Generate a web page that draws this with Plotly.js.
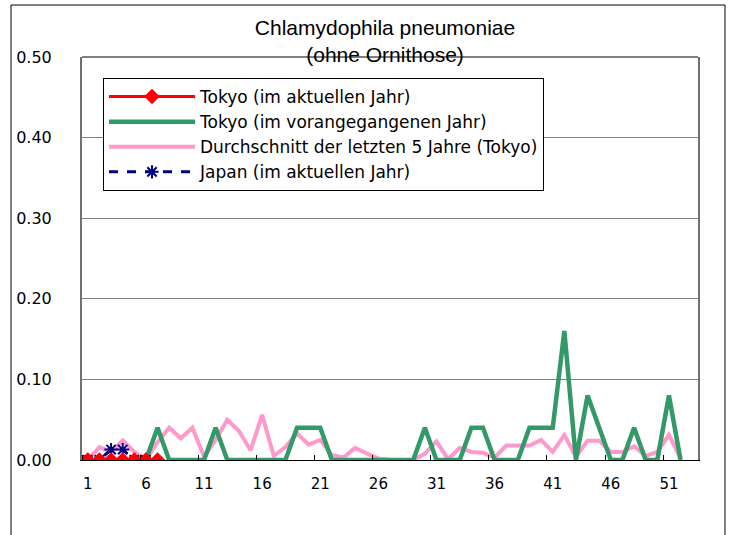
<!DOCTYPE html>
<html>
<head>
<meta charset="utf-8">
<script src="https://cdn.plot.ly/plotly-3.0.1.min.js"></script>
<style>html,body{margin:0;padding:0;background:#fff;}#chart{width:732px;height:535px;}</style>
</head>
<body>
<div id="chart"></div>
<script>
const weeks = [1,2,3,4,5,6,7,8,9,10,11,12,13,14,15,16,17,18,19,20,21,22,23,24,25,26,
  27,28,29,30,31,32,33,34,35,36,37,38,39,40,41,42,43,44,45,46,47,48,49,50,51,52];
const weekTicks = [1,6,11,16,21,26,31,36,41,46,51];
const weekTickLabels = ["1","6","11","16","21","26","31","36","41","46","51"];

const seriesNames = [
  "Tokyo (im aktuellen Jahr)",
  "Tokyo (im vorangegangenen Jahr)",
  "Durchschnitt der letzten 5 Jahre (Tokyo)",
  "Japan (im aktuellen Jahr)"
];

// Tokyo, current year (weeks 1-7)
const tokyoCurrent = [0,0,0,0,0,0,0];
// Tokyo, previous year
const tokyoPrevious = [0,0,0,0,0,0,0.04,0,0,0,0,0.04,0,0,0,0,0,0,0.04,0.04,
  0.04,0,0,0,0,0,0,0,0,0.04,0,0,0,0.04,0.04,0,0,0,0.04,0.04,
  0.04,0.16,0,0.08,0.04,0,0,0.04,0,0,0.08,0];
// Tokyo, average of last 5 years
const tokyoAvg5 = [0,0.016,0.01,0.024,0.01,0,0.022,0.04,0.027,0.04,
  0.004,0.025,0.05,0.036,0.012,0.056,0.005,0.016,0.033,0.019,
  0.025,0.006,0.003,0.015,0.008,0.002,0,0,0,0.008,
  0.023,0.001,0.015,0.01,0.009,0.003,0.018,0.018,0.018,0.025,
  0.01,0.031,0.004,0.024,0.024,0.01,0.01,0.017,0.005,0.01,
  0.031,0.002];
// Japan, current year (weeks 1-6)
const japanCurrent = [0,0,0.013,0.013,0,0];

const traces = [
  {x: weeks, y: tokyoAvg5, name: seriesNames[2], type: "scatter", mode: "lines",
   line: {color: "#FF99CC", width: 4}, legendrank: 3, legendgroup: "c"},
  {x: weeks, y: tokyoPrevious, name: seriesNames[1], type: "scatter", mode: "lines",
   line: {color: "#339966", width: 4.5}, legendrank: 2, legendgroup: "b"},
  {x: weeks.slice(0, japanCurrent.length), y: japanCurrent, name: seriesNames[3], type: "scatter", mode: "lines+markers",
   line: {color: "#000080", width: 3, dash: "dash"},
   marker: {symbol: "asterisk-open", size: 11, line: {color: "#000080", width: 2}},
   legendrank: 4, legendgroup: "d"},
  {x: weeks.slice(0, tokyoCurrent.length), y: tokyoCurrent, name: seriesNames[0], type: "scatter", mode: "lines+markers",
   line: {color: "#FF0000", width: 3},
   marker: {symbol: "diamond", size: 12, color: "#FF0000"},
   legendrank: 1, legendgroup: "a"}
];

const L = 82, R = 34, T = 57, B = 75, W = 732, H = 535;
const pw = W - L - R, ph = H - T - B;

const layout = {
  width: W, height: H, autosize: false,
  margin: {l: L, r: R, t: T, b: B, pad: 0},
  paper_bgcolor: "#ffffff", plot_bgcolor: "#ffffff",
  font: {family: "DejaVu Sans, Verdana, sans-serif", size: 15, color: "#000"},
  title: {
    text: "Chlamydophila pneumoniae<br>(ohne Ornithose)",
    font: {family: "Liberation Sans, Arial, sans-serif", size: 21, color: "#000"},
    xref: "container", x: 0.526, xanchor: "center",
    yref: "container", y: 0.935, yanchor: "top"
  },
  xaxis: {
    range: [0.5, 53.5], showgrid: false, zeroline: false,
    tickmode: "array", tickvals: weekTicks, ticktext: weekTickLabels,
    ticks: "", showline: true, linecolor: "#000", linewidth: 1,
    ticklabelstandoff: 10,
    tickfont: {family: "DejaVu Sans, Verdana, sans-serif", size: 15},
    minor: {tick0: 0.5, dtick: 5, ticks: "inside", ticklen: 5, tickcolor: "#000", showgrid: false},
    fixedrange: true
  },
  yaxis: {
    range: [0, 0.5], dtick: 0.1, tick0: 0, tickformat: ".2f",
    showgrid: true, gridcolor: "#808080", gridwidth: 1, zeroline: false,
    showline: true, linecolor: "#707070", linewidth: 2, mirror: true,
    ticks: "", ticklabelstandoff: 25,
    tickfont: {family: "DejaVu Sans, Verdana, sans-serif", size: 16},
    fixedrange: true
  },
  showlegend: true,
  legend: {
    x: (103 - L) / pw, xanchor: "left",
    y: (H - B - 78) / ph, yanchor: "top",
    bgcolor: "#ffffff", bordercolor: "#000", borderwidth: 1,
    font: {family: "DejaVu Sans, Verdana, sans-serif", size: 17},
    tracegroupgap: 8, itemwidth: 86,
    traceorder: "normal"
  },
  shapes: [
    {type: "rect", xref: "paper", yref: "paper",
     x0: (11 - L) / pw, x1: (725 - L) / pw,
     y0: (H - B - 545) / ph, y1: (H - B - 5) / ph,
     line: {color: "#000", width: 1}, fillcolor: "rgba(0,0,0,0)", layer: "below"},
    {type: "line", xref: "paper", yref: "paper", x0: 0, x1: 1, y0: 1, y1: 1,
     line: {color: "#808080", width: 2}}
  ]
};

Plotly.newPlot("chart", traces, layout, {displayModeBar: false, staticPlot: true});
</script>
</body>
</html>
